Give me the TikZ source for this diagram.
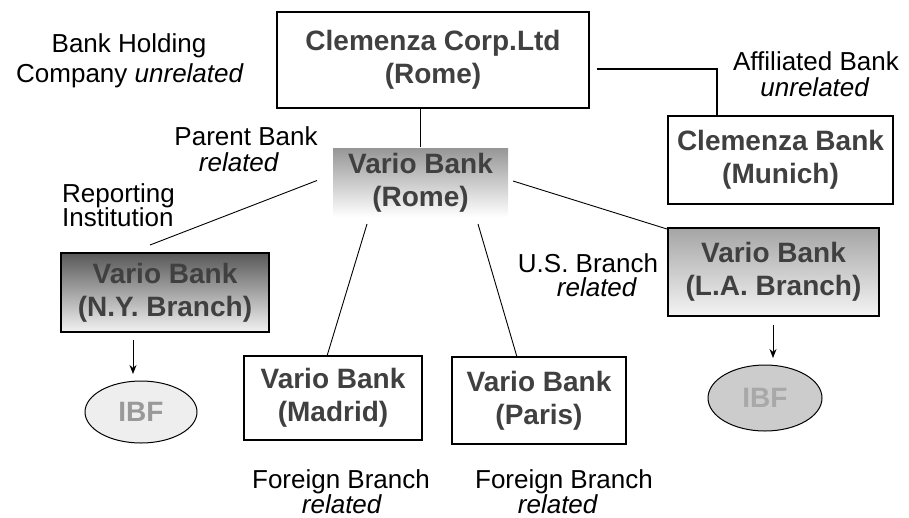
\documentclass[tikz,border=0pt]{standalone}
\usepackage{fontspec}
\setmainfont{Liberation Sans}
\usetikzlibrary{arrows.meta,shapes.geometric}
\definecolor{boxtext}{HTML}{404040}
\definecolor{ibfone}{HTML}{EEEEEE}
\definecolor{ibftwo}{HTML}{CCCCCC}
\definecolor{ibftxtone}{HTML}{999999}
\definecolor{ibftxttwo}{HTML}{A8A8A8}
\tikzset{
  bank/.style={draw=black, line width=1.2pt, rectangle, align=center, inner sep=0pt,
    text=boxtext, font=\fontsize{28}{33}\selectfont\bfseries},
  lbl/.style={anchor=base, inner sep=0pt, font=\fontsize{26}{30}\selectfont},
  tight/.style={text height=17pt, text depth=3pt},
  ibf/.style={ellipse, draw=black, line width=1pt, inner sep=0pt,
    font=\fontsize{28}{33}\selectfont\bfseries},
  thin/.style={line width=0.9pt},
  arr/.style={line width=1pt, -{Stealth[length=9pt,width=7pt]}}
}
\begin{document}
\begin{tikzpicture}[x=1pt,y=-1pt]
\useasboundingbox (0,0) rectangle (909,517);
% boxes
\node[bank, minimum width=312pt, minimum height=96pt] (corp) at (433,60) {Clemenza Corp.Ltd\\(Rome)};
\node[bank, draw=none, top color={rgb,255:red,150;green,150;blue,150}, bottom color=white,
      minimum width=175pt, minimum height=69pt] (rome) at (420.5,182.5) {Vario Bank\\(Rome)};
\node[bank, minimum width=225pt, minimum height=88pt] (munich) at (780.5,160) {Clemenza Bank\\(Munich)};
\node[bank, top color={rgb,255:red,88;green,88;blue,88}, bottom color={rgb,255:red,242;green,242;blue,242},
      minimum width=208pt, minimum height=79pt] (ny) at (165,292.5) {Vario Bank\\(N.Y. Branch)};
\node[bank, top color={rgb,255:red,165;green,165;blue,165}, bottom color={rgb,255:red,244;green,244;blue,244},
      minimum width=211pt, minimum height=88pt] (la) at (773.5,272) {Vario Bank\\(L.A. Branch)};
\node[bank, minimum width=178pt, minimum height=84pt] (madrid) at (333,398) {Vario Bank\\(Madrid)};
\node[bank, minimum width=174pt, minimum height=87pt] (paris) at (539,400.5) {Vario Bank\\(Paris)};
\node[ibf, fill=ibfone, text=ibftxtone, minimum width=112pt, minimum height=62pt] (ibf1) at (141,412) {IBF};
\node[ibf, fill=ibftwo, text=ibftxttwo, minimum width=114pt, minimum height=66pt] (ibf2) at (765,398) {IBF};
% connector end points
\coordinate (cm1) at (597,69);
\coordinate (cm2) at (717,116);
\coordinate (rn1) at (317,180.5);
\coordinate (rn2) at (150,245);
\coordinate (rl1) at (513,181);
\coordinate (rl2) at (667,229);
\coordinate (rm1) at (367,224);
\coordinate (rm2) at (327,356);
\coordinate (rp1) at (478,224);
\coordinate (rp2) at (517,357);
\coordinate (n1) at (133,340);
\coordinate (n2) at (133,374);
\coordinate (l1) at (773,325);
\coordinate (l2) at (773,358);
% connectors
\draw[line width=1.8pt] (corp.south -| rome.north) -- (rome.north);
\draw[line width=1.3pt] (cm1) -| (cm2);
\draw[thin] (rn1) -- (rn2);
\draw[thin] (rl1) -- (rl2);
\draw[thin] (rm1) -- (rm2);
\draw[thin] (rp1) -- (rp2);
\draw[arr] (n1) -- (n2);
\draw[arr] (l1) -- (l2);
% labels
\node[lbl] (t1) at (129,52) {Bank Holding};
\node[lbl] (t2) at (130,82) {Company \textit{unrelated}};
\node[lbl, tight] (t3) at (816,70) {Affiliated Bank};
\node[lbl, tight] (t4) at (815,96) {\textit{unrelated}};
\node[lbl] (t5) at (246,145) {Parent Bank};
\node[lbl] (t6) at (239,171) {\textit{related}};
\node[lbl, tight, anchor=base west] (t7) at (62,202) {Reporting};
\node[lbl, tight, anchor=base west] (t8) at (62,226) {Institution};
\node[lbl] (t9) at (588,272) {U.S. Branch};
\node[lbl] (t10) at (597,296) {\textit{related}};
\node[lbl] (t11) at (341,488) {Foreign Branch};
\node[lbl] (t12) at (342,513) {\textit{related}};
\node[lbl] (t13) at (564,488) {Foreign Branch};
\node[lbl] (t14) at (558,513) {\textit{related}};
\end{tikzpicture}
\end{document}
